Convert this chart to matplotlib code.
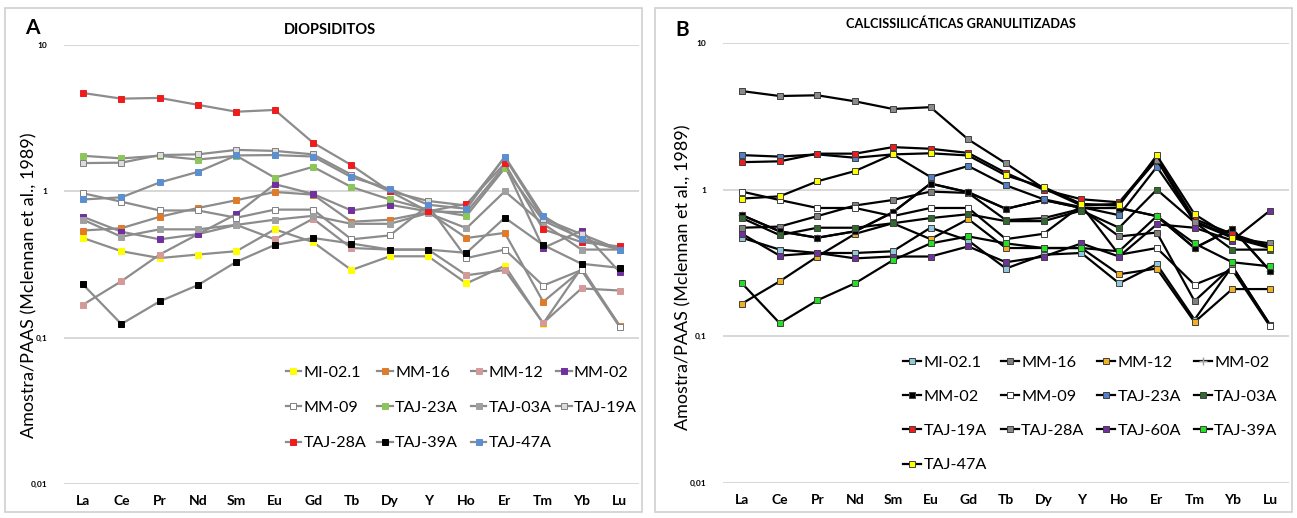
import matplotlib.pyplot as plt
from matplotlib.patches import Rectangle

plt.rcParams['font.family'] = ['Lato', 'DejaVu Sans']

elements = ['La', 'Ce', 'Pr', 'Nd', 'Sm', 'Eu', 'Gd', 'Tb', 'Dy', 'Y', 'Ho', 'Er', 'Tm', 'Yb', 'Lu']

# --- panel A: diopsiditos ---
a_mi021 = [0.48, 0.39, 0.35, 0.37, 0.39, 0.55, 0.45, 0.29, 0.36, 0.36, 0.235, 0.31, 0.125, 0.30, 0.12]
a_mm16 = [0.54, 0.56, 0.67, 0.77, 0.87, 0.99, 0.95, 0.62, 0.64, 0.72, 0.48, 0.52, 0.176, 0.29, 0.12]
a_mm12 = [0.168, 0.243, 0.37, 0.51, 0.59, 0.47, 0.65, 0.41, 0.40, 0.40, 0.267, 0.29, 0.126, 0.217, 0.21]
a_mm02 = [0.67, 0.53, 0.47, 0.51, 0.70, 1.12, 0.96, 0.74, 0.81, 0.73, 0.72, 1.5, 0.41, 0.54, 0.28]
a_mm09 = [0.97, 0.85, 0.74, 0.74, 0.66, 0.75, 0.75, 0.47, 0.50, 0.80, 0.35, 0.40, 0.227, 0.29, 0.118]
a_taj23a = [1.75, 1.68, 1.75, 1.65, 1.75, 1.24, 1.47, 1.07, 0.88, 0.75, 0.68, 1.44, 0.63, 0.48, 0.40]
a_taj03a = [0.64, 0.49, 0.55, 0.55, 0.59, 0.64, 0.68, 0.60, 0.60, 0.71, 0.56, 1.0, 0.60, 0.40, 0.40]
a_taj19a = [1.56, 1.57, 1.77, 1.79, 1.92, 1.89, 1.79, 1.30, 1.0, 0.86, 0.80, 1.7, 0.65, 0.51, 0.40]
a_taj28a = [4.7, 4.3, 4.35, 3.9, 3.5, 3.6, 2.15, 1.51, 1.0, 0.73, 0.82, 1.55, 0.55, 0.45, 0.42]
a_taj39a = [0.231, 0.124, 0.177, 0.229, 0.33, 0.43, 0.48, 0.44, 0.40, 0.40, 0.38, 0.66, 0.43, 0.32, 0.30]
a_taj47a = [0.88, 0.91, 1.15, 1.36, 1.76, 1.77, 1.73, 1.25, 1.04, 0.81, 0.76, 1.73, 0.68, 0.47, 0.40]

# --- panel B: calcissilicaticas granulitizadas ---
b_mi021 = [0.47, 0.39, 0.37, 0.37, 0.38, 0.55, 0.45, 0.29, 0.36, 0.37, 0.23, 0.31, 0.13, 0.30, 0.12]
b_mm16 = [0.55, 0.56, 0.66, 0.78, 0.85, 0.97, 0.95, 0.62, 0.64, 0.74, 0.48, 0.51, 0.174, 0.30, 0.12]
b_mm12 = [0.167, 0.237, 0.35, 0.50, 0.59, 0.46, 0.63, 0.40, 0.40, 0.40, 0.265, 0.29, 0.125, 0.21, 0.21]
b_mm02_gray = [0.67, 0.52, 0.47, 0.52, 0.70, 1.10, 0.96, 0.74, 0.85, 0.75, 0.75, 0.66, 0.40, 0.54, 0.28]
b_mm02 = [0.67, 0.52, 0.47, 0.52, 0.70, 1.10, 0.96, 0.74, 0.85, 0.75, 0.75, 0.66, 0.40, 0.54, 0.28]
b_mm09 = [0.97, 0.85, 0.75, 0.75, 0.66, 0.75, 0.75, 0.46, 0.50, 0.78, 0.36, 0.40, 0.225, 0.285, 0.117]
b_taj23a = [1.72, 1.68, 1.74, 1.65, 1.74, 1.22, 1.45, 1.07, 0.86, 0.76, 0.67, 1.43, 0.61, 0.48, 0.41]
b_taj03a = [0.64, 0.49, 0.55, 0.55, 0.59, 0.64, 0.68, 0.61, 0.61, 0.72, 0.55, 1.0, 0.60, 0.39, 0.39]
b_taj19a = [1.54, 1.56, 1.76, 1.76, 1.95, 1.90, 1.78, 1.30, 1.0, 0.86, 0.82, 1.65, 0.63, 0.50, 0.41]
b_taj28a = [4.7, 4.35, 4.4, 4.0, 3.55, 3.65, 2.2, 1.51, 1.02, 0.78, 0.80, 1.6, 0.60, 0.47, 0.43]
b_taj60a = [0.50, 0.355, 0.37, 0.34, 0.35, 0.35, 0.41, 0.32, 0.35, 0.43, 0.35, 0.58, 0.55, 0.45, 0.72]
b_taj39a = [0.23, 0.123, 0.176, 0.23, 0.33, 0.43, 0.48, 0.43, 0.40, 0.40, 0.38, 0.66, 0.43, 0.32, 0.30]
b_taj47a = [0.87, 0.90, 1.14, 1.34, 1.74, 1.77, 1.71, 1.25, 1.04, 0.80, 0.78, 1.71, 0.68, 0.47, 0.40]

series_a = [
    ('MI-02.1', a_mi021, '#ffff00'),
    ('MM-16', a_mm16, '#e07b2a'),
    ('MM-12', a_mm12, '#d49a9a'),
    ('MM-02', a_mm02, '#7030a0'),
    ('MM-09', a_mm09, '#ffffff'),
    ('TAJ-23A', a_taj23a, '#8cc65a'),
    ('TAJ-03A', a_taj03a, '#a0a0a0'),
    ('TAJ-19A', a_taj19a, '#dcdcdc'),
    ('TAJ-28A', a_taj28a, '#ee1c1c'),
    ('TAJ-39A', a_taj39a, '#000000'),
    ('TAJ-47A', a_taj47a, '#5b8fd0'),
]

series_b = [
    ('MI-02.1', b_mi021, '#92c8dc', 's'),
    ('MM-16', b_mm16, '#808080', 's'),
    ('MM-12', b_mm12, '#f0b020', 's'),
    ('MM-02', b_mm02_gray, '#a0a0a0', '+'),
    ('MM-02', b_mm02, '#000000', 's'),
    ('MM-09', b_mm09, '#ffffff', 's'),
    ('TAJ-23A', b_taj23a, '#4f81c4', 's'),
    ('TAJ-03A', b_taj03a, '#2f6b2a', 's'),
    ('TAJ-19A', b_taj19a, '#ee1c1c', 's'),
    ('TAJ-28A', b_taj28a, '#8a8a8a', 's'),
    ('TAJ-60A', b_taj60a, '#7030a0', 's'),
    ('TAJ-39A', b_taj39a, '#22e022', 's'),
    ('TAJ-47A', b_taj47a, '#ffff00', 's'),
]

fig = plt.figure(figsize=(12.97, 5.18), dpi=100)

# panel frames
for x0 in (0.004, 0.505):
    fig.patches.append(Rectangle((x0, 0.012), 0.491, 0.972, transform=fig.transFigure,
                                 fill=False, edgecolor='#d0d0d0', linewidth=1.2))


def style_axes(ax):
    ax.set_yscale('log')
    ax.set_ylim(0.01, 10)
    ax.set_xlim(-0.5, len(elements) - 0.5)
    ax.set_yticks([0.01, 0.1, 1, 10])
    ax.set_yticklabels(['0,01', '0,1', '1', '10'], fontsize=6, fontweight='bold')
    ax.minorticks_off()
    ax.set_xticks(range(len(elements)))
    ax.set_xticklabels(elements, fontsize=10, fontweight='bold')
    ax.tick_params(length=0, pad=8)
    ax.tick_params(axis='y', pad=12)
    for s in ax.spines.values():
        s.set_visible(False)
    ax.grid(axis='y', color='#d4d4d4', linewidth=1.3)
    ax.set_axisbelow(True)


def row_legend(ax, xs, top, size, spacing, hlen):
    # excel fills the legend row by row with equal column widths:
    # one single-column legend per column
    h, l = ax.get_legend_handles_labels()
    for c, x in enumerate(xs):
        leg = ax.legend(h[c::4], l[c::4], loc='upper left', bbox_to_anchor=(x, top),
                        frameon=False, fontsize=size, handlelength=hlen, handletextpad=0.15,
                        labelspacing=spacing, borderaxespad=0, borderpad=0)
        if c < len(xs) - 1:
            ax.add_artist(leg)


ax1 = fig.add_axes([0.0492, 0.0656, 0.4435, 0.8475])
style_axes(ax1)
for name, vals, col in series_a:
    ec = '#808080' if col in ('#ffffff', '#dcdcdc') else col
    ax1.plot(range(len(elements)), vals, color='#8c8c8c', linewidth=1.6, marker='s',
             markersize=5, markerfacecolor=col, markeredgecolor=ec, markeredgewidth=0.7, label=name)
row_legend(ax1, [0.386, 0.545, 0.708, 0.856], 0.27, 11.6, 1.3, 0.95)
fig.text(0.019, 0.935, 'A', fontsize=15, fontweight='bold')
fig.text(0.254, 0.935, 'DIOPSIDITOS', fontsize=10.5, fontweight='bold', ha='center')
fig.text(0.023, 0.45, 'Amostra/PAAS (Mclennan et al., 1989)', fontsize=13, rotation=90,
         ha='center', va='center')

ax2 = fig.add_axes([0.5575, 0.0676, 0.4362, 0.8494])
style_axes(ax2)
for name, vals, col, mk in series_b:
    if mk == '+':
        ax2.plot(range(len(elements)), vals, color='#000000', linewidth=1.6, marker='+',
                 markersize=6, markeredgecolor=col, markeredgewidth=1.0, label=name)
    else:
        ax2.plot(range(len(elements)), vals, color='#000000', linewidth=1.6, marker='s',
                 markersize=5, markerfacecolor=col, markeredgecolor='#404040', markeredgewidth=0.7,
                 label=name)
row_legend(ax2, [0.318, 0.491, 0.661, 0.832], 0.29, 11.7, 1.22, 1.1)
fig.text(0.521, 0.93, 'B', fontsize=15, fontweight='bold')
fig.text(0.741, 0.945, 'CALCISSILICÁTICAS GRANULITIZADAS', fontsize=9.2, fontweight='bold', ha='center')
fig.text(0.527, 0.465, 'Amostra/PAAS (Mclennan et al., 1989)', fontsize=13, rotation=90,
         ha='center', va='center')

fig.savefig('out.png', dpi=100)
